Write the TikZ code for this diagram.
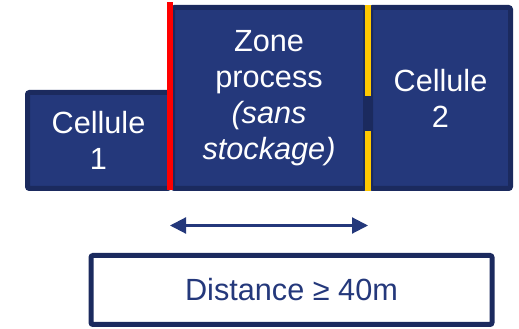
\documentclass[tikz,border=0pt]{standalone}
\usepackage{fontspec}
\setmainfont{Liberation Sans}
\usetikzlibrary{positioning,calc,arrows.meta}
\definecolor{navyfill}{HTML}{24387B}
\definecolor{navyline}{HTML}{1B2A5E}
\definecolor{zonered}{HTML}{FF0000}
\definecolor{zoneyellow}{HTML}{FFC800}
\tikzset{cellbox/.style={draw=navyline, line width=3.75pt, fill=navyfill, rounded corners=1.5pt, inner sep=0pt, align=center, text=white, font=\fontsize{23}{27}\selectfont}}
\tikzset{distbox/.style={draw=navyline, line width=3.75pt, fill=white, rounded corners=1.5pt, inner sep=0pt, text=navyfill, font=\fontsize{23}{27}\selectfont, minimum width=300.75pt, minimum height=51.75pt}}
\tikzset{edgeline/.style={line width=4.5pt}}
\tikzset{arr/.style={draw=navyfill, line width=1.6pt, {Triangle[length=12pt,width=12pt]}-{Triangle[length=12pt,width=12pt]}}}

\begin{document}
\begin{tikzpicture}[x=0.75pt, y=0.75pt]
    \useasboundingbox (0,0) rectangle (519,329);
    % the three blocks
    \node[cellbox, minimum width=106.5pt, minimum height=72pt] (c1) at (98.5,188.5) {Cellule\\1};
    \node[cellbox, minimum width=144.75pt, minimum height=135.75pt] (zone) at (269,231)
        {Zone\\process\\\textit{(sans}\\\textit{stockage)}};
    \node[cellbox, minimum width=105pt, minimum height=135.75pt] (c2) at (440.5,231) {Cellule\\2};
    % walls
    \draw[edgeline, zonered] ([yshift=1.9pt]zone.north west) -- ([yshift=0.75pt]zone.south west);
    \coordinate (ytop) at ($(zone.north east)!0.5!(c2.north west)$);
    \coordinate (ybot) at ($(zone.south east)!0.5!(c2.south west)$);
    \draw[edgeline, zoneyellow] (ytop) -- ++(0,-91);
    \draw[edgeline, zoneyellow] (ybot) -- ++(0,60);
    % distance
    \draw[arr] ($(zone.south west)+(0,-34.5)$) -- ($(zone.south east)+(0,-34.5)$);
    \node[distbox] (dist) at (291.5,39) {Distance ≥ 40m};
\end{tikzpicture}
\end{document}
